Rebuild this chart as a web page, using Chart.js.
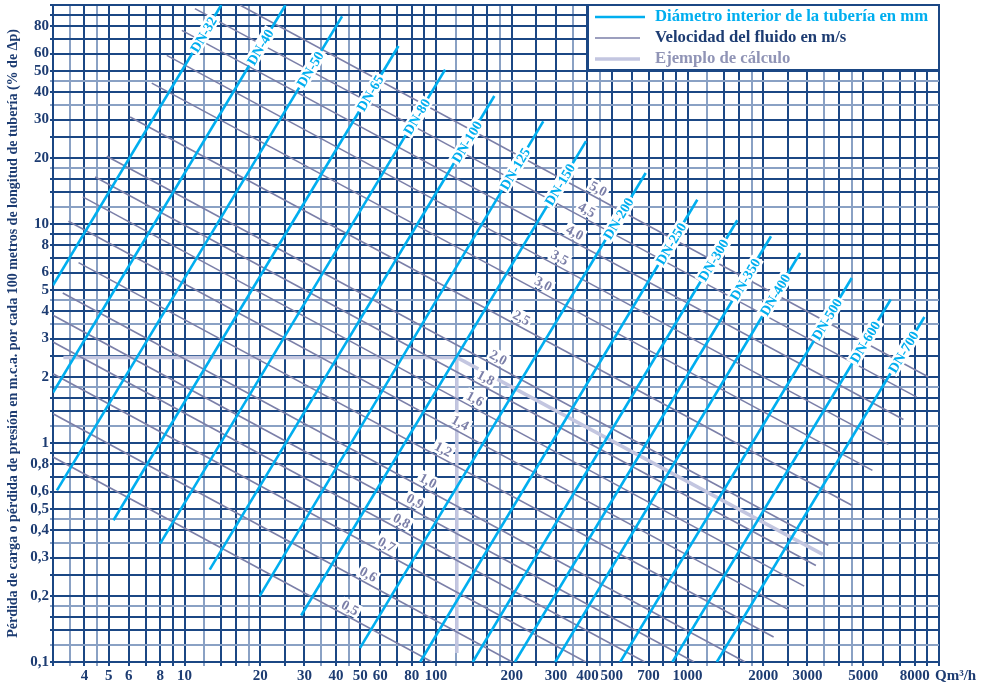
<!DOCTYPE html>
<html>
<head>
<meta charset="utf-8">
<script src="https://cdn.jsdelivr.net/npm/chart.js@4"></script>
<style>
html, body { margin: 0; padding: 0; background: #fff; }
#wrap { width: 983px; height: 683px; position: relative; }
</style>
</head>
<body>
<div id="wrap"><canvas id="chart"></canvas></div>
<script>
// Pipe diameter lines (Q in m3/h, P in m.c.a. per 100 m)
const dnNames = ['DN-32', 'DN-40', 'DN-50', 'DN-65', 'DN-80', 'DN-100', 'DN-125', 'DN-150', 'DN-200', 'DN-250', 'DN-300', 'DN-350', 'DN-400', 'DN-500', 'DN-600', 'DN-700'];
const dnQStart = [3, 3, 3.11, 5.22, 8.0, 12.6, 19.9, 29.1, 49.9, 86.5, 140, 206, 298, 540, 871, 1308];
const dnPStart = [5.25, 1.70, 0.608, 0.444, 0.347, 0.264, 0.200, 0.163, 0.116, 0.1, 0.1, 0.1, 0.1, 0.1, 0.1, 0.1];
const dnQEnd = [14, 25.2, 42.3, 70.9, 108.7, 170.6, 267, 395, 682, 1094, 1578, 2148, 2804, 4498, 6427, 8750];
const dnPEnd = [100, 100, 88.8, 65.0, 50.7, 38.4, 29.4, 23.9, 17.1, 12.9, 10.4, 8.79, 7.37, 5.67, 4.52, 3.76];
const dnLabelQ = [11.9, 20.0, 31.6, 54.7, 83.9, 132.6, 206, 311, 531, 860, 1268, 1694, 2230, 3580, 5085, 7220];

// Fluid velocity lines (m/s)
const velNames = ['5,0', '4,5', '4,0', '3,5', '3,0', '2,5', '2,0', '1,8', '1,6', '1,4', '1,2', '1,0', '0,9', '0,8', '0,7', '0,6', '0,5'];
const velQStart = [16.6, 11.0, 9.76, 8.5, 7.41, 6.08, 4.91, 4.41, 3.94, 3.455, 3.79, 3.28, 3, 3, 3, 3, 3];
const velPStart = [100, 96.3, 76.6, 58.9, 44.0, 30.8, 20.4, 16.4, 13.3, 10.3, 6.66, 4.84, 3.83, 2.89, 2.07, 1.36, 0.863];
const velQEnd = [9080, 8160, 7220, 6290, 5435, 4500, 3630, 3240, 2910, 2520, 2200, 1694, 1062, 676, 394, 201, 96.5];
const velPEnd = [2.0, 1.62, 1.28, 0.986, 0.75, 0.52, 0.341, 0.276, 0.222, 0.1735, 0.13, 0.1, 0.1, 0.1, 0.1, 0.1, 0.1];
const velLabelQ = [442, 398, 357, 311, 267, 219, 177, 158, 143, 125, 107, 93, 82.6, 73.1, 63.7, 53.8, 45.6];

// Worked example path
const exampleQ = [3.3, 121, 121];
const exampleP = [2.46, 2.46, 0.11];
const exampleDiagQ = [121, 3450];
const exampleDiagP = [2.46, 0.31];

// Axes
const gridSteps = [1, 1.2, 1.4, 1.6, 1.8, 2, 2.5, 3, 3.5, 4, 4.5, 5, 6, 7, 8, 9];
const lightSteps = [1.2, 1.8, 3.5, 4.5];
const qTickLabels = [4, 5, 6, 8, 10, 20, 30, 40, 50, 60, 80, 100, 200, 300, 400, 500, 700, 1000, 2000, 3000, 5000, 8000];
const pTickLabels = [0.1, 0.2, 0.3, 0.4, 0.5, 0.6, 0.8, 1, 2, 3, 4, 5, 6, 8, 10, 20, 30, 40, 50, 60, 80];

const CYAN = '#00aeef';
const VEL = '#7b7fa8';
const EXAMPLE = '#c3c6e0';
const GRID_DARK = '#1b4784';
const GRID_LIGHT = '#8aa1c4';
const NAVY = '#1d3c72';
const FONT = '"Liberation Serif", "Times New Roman", serif';

function gridValues(min, max) {
    const out = [];
    for (let e = -2; e <= 4; e++) {
        gridSteps.forEach(m => {
            const v = Number((m * Math.pow(10, e)).toPrecision(6));
            if (v >= min - 1e-9 && v <= max + 1e-9) out.push(v);
        });
    }
    return out;
}

function mantissa(v) {
    return Number((v / Math.pow(10, Math.floor(Math.log10(v) + 1e-9))).toPrecision(4));
}

function gridColor(ctx) {
    if (!ctx.tick) return GRID_DARK;
    return lightSteps.includes(mantissa(ctx.tick.value)) ? GRID_LIGHT : GRID_DARK;
}

function segment(q1, p1, q2, p2) {
    return [{ x: q1, y: p1 }, { x: q2, y: p2 }];
}

const datasets = [];
dnNames.forEach((name, i) => {
    datasets.push({
        label: name,
        data: segment(dnQStart[i], dnPStart[i], dnQEnd[i], dnPEnd[i]),
        borderColor: CYAN, borderWidth: 2.6, order: 1
    });
});
velNames.forEach((name, i) => {
    datasets.push({
        label: name,
        data: segment(velQStart[i], velPStart[i], velQEnd[i], velPEnd[i]),
        borderColor: VEL, borderWidth: 1.6, order: 2
    });
});
datasets.push({
    label: 'ejemplo',
    data: exampleQ.map((q, i) => ({ x: q, y: exampleP[i] })),
    borderColor: EXAMPLE, borderWidth: 3.5, order: 3
});
datasets.push({
    label: 'ejemplo2',
    data: exampleDiagQ.map((q, i) => ({ x: q, y: exampleDiagP[i] })),
    borderColor: EXAMPLE, borderWidth: 3.5, order: 3
});
datasets.forEach(d => {
    d.showLine = true;
    d.pointRadius = 0;
    d.fill = false;
    d.tension = 0;
});

// Rotated label on (or just above) a straight log-log line
function drawLineLabel(chart, q1, p1, q2, p2, q, text, color, font, lift) {
    const xs = chart.scales.x, ys = chart.scales.y;
    const ctx = chart.ctx;
    const t = (Math.log(q) - Math.log(q1)) / (Math.log(q2) - Math.log(q1));
    const p = Math.exp(Math.log(p1) + t * (Math.log(p2) - Math.log(p1)));
    const px = xs.getPixelForValue(q), py = ys.getPixelForValue(p) - lift;
    const ang = Math.atan2(ys.getPixelForValue(p2) - ys.getPixelForValue(p1),
                           xs.getPixelForValue(q2) - xs.getPixelForValue(q1));
    ctx.save();
    ctx.translate(px, py);
    ctx.rotate(ang);
    ctx.font = font;
    const w = ctx.measureText(text).width;
    ctx.fillStyle = '#fff';
    ctx.fillRect(-w / 2 - 2, -7, w + 4, 14);
    ctx.fillStyle = color;
    ctx.textAlign = 'center';
    ctx.textBaseline = 'middle';
    ctx.fillText(text, 0, 1);
    ctx.restore();
}

const labelPlugin = {
    id: 'lineLabels',
    afterDatasetsDraw(chart) {
        velNames.forEach((name, i) => {
            drawLineLabel(chart, velQStart[i], velPStart[i], velQEnd[i], velPEnd[i],
                velLabelQ[i], name, VEL, 'bold 14px ' + FONT, 10);
        });
        dnNames.forEach((name, i) => {
            drawLineLabel(chart, dnQStart[i], dnPStart[i], dnQEnd[i], dnPEnd[i],
                dnLabelQ[i], name, CYAN, 'bold 14px ' + FONT, 0);
        });
    },
    afterDraw(chart) {
        const ctx = chart.ctx;
        const area = chart.chartArea;
        // legend box in the top-right corner
        const bx = area.right - 351, by = area.top, bw = 351, bh = 65;
        ctx.save();
        ctx.fillStyle = '#fff';
        ctx.fillRect(bx, by, bw, bh);
        ctx.strokeStyle = GRID_DARK;
        ctx.lineWidth = 2;
        ctx.strokeRect(bx, by, bw, bh);
        const items = [
            { text: 'Diámetro interior de la tubería en mm', color: CYAN, line: CYAN, w: 2.6, len: 50, y: 12 },
            { text: 'Velocidad del fluido en m/s', color: NAVY, line: VEL, w: 1.6, len: 45, y: 33 },
            { text: 'Ejemplo de cálculo', color: '#9094b6', line: EXAMPLE, w: 3.5, len: 45, y: 54 }
        ];
        ctx.font = 'bold 16.7px ' + FONT;
        ctx.textBaseline = 'middle';
        items.forEach(it => {
            ctx.strokeStyle = it.line;
            ctx.lineWidth = it.w;
            ctx.beginPath();
            ctx.moveTo(bx + 7, by + it.y);
            ctx.lineTo(bx + 7 + it.len, by + it.y);
            ctx.stroke();
            ctx.fillStyle = it.color;
            ctx.fillText(it.text, bx + 67, by + it.y);
        });
        // unit after the last x tick label
        ctx.font = 'bold 15px ' + FONT;
        ctx.fillStyle = NAVY;
        ctx.textBaseline = 'middle';
        ctx.fillText('Qm³/h', chart.scales.x.getPixelForValue(10000) - 4, area.bottom + 14);
        ctx.restore();
    }
};

new Chart(document.getElementById('chart'), {
    type: 'scatter',
    data: { datasets },
    options: {
        responsive: true,
        maintainAspectRatio: false,
        animation: false,
        events: [],
        layout: { padding: { left: 0, right: 44, top: 5, bottom: 0 } },
        plugins: {
            legend: { display: false },
            tooltip: { enabled: false }
        },
        scales: {
            x: {
                type: 'logarithmic',
                min: 3,
                max: 10000,
                afterBuildTicks: s => { s.ticks = gridValues(3, 10000).map(v => ({ value: v })); },
                afterFit: s => { s.height = 21; s.paddingLeft = 0; s.paddingRight = 0; },
                grid: { color: gridColor, lineWidth: 2, tickLength: 4 },
                border: { color: GRID_DARK, width: 2 },
                ticks: {
                    autoSkip: false,
                    maxRotation: 0,
                    padding: 1,
                    color: NAVY,
                    font: { family: FONT, size: 15, weight: 'bold' },
                    callback: v => qTickLabels.includes(Number(v)) ? String(v) : ''
                }
            },
            y: {
                type: 'logarithmic',
                min: 0.1,
                max: 100,
                afterBuildTicks: s => { s.ticks = gridValues(0.1, 100).map(v => ({ value: v })); },
                afterFit: s => { s.width = 53; s.paddingTop = 0; s.paddingBottom = 0; },
                grid: { color: gridColor, lineWidth: 2, tickLength: 3 },
                border: { color: GRID_DARK, width: 2 },
                title: {
                    display: true,
                    text: 'Pérdida de carga o pérdida de presión en m.c.a. por cada 100 metros de longitud de tubería (% de Δp)',
                    color: NAVY,
                    font: { family: FONT, size: 14, weight: 'bold' },
                    padding: { top: 5, bottom: 0 }
                },
                ticks: {
                    autoSkip: false,
                    padding: 1,
                    color: NAVY,
                    font: { family: FONT, size: 15, weight: 'bold' },
                    callback: v => pTickLabels.includes(Number(v)) ? String(v).replace('.', ',') : ''
                }
            }
        }
    },
    plugins: [labelPlugin]
});
</script>
</body>
</html>
